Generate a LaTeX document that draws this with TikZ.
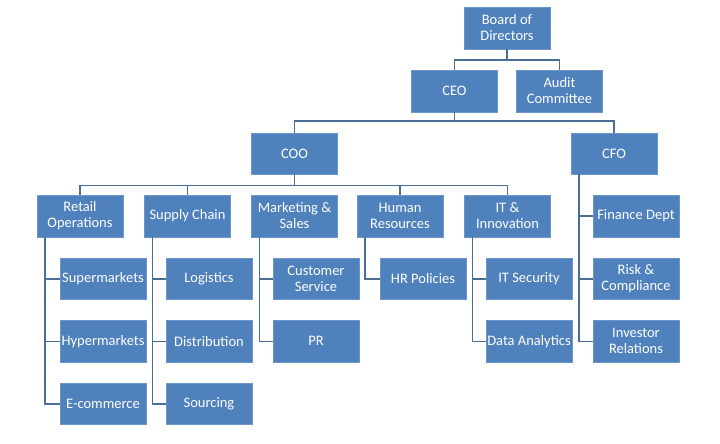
\documentclass[tikz,border=0pt]{standalone}
\usepackage{fontspec}
\setmainfont{Carlito}
\definecolor{boxblue}{HTML}{4F81BD}
\definecolor{boxedge}{HTML}{6B96CA}
\definecolor{linkc}{HTML}{4B6E96}
\begin{document}
\begin{tikzpicture}[x=1pt,y=-1pt,
  box/.style={fill=boxblue,draw=boxedge,line width=0.4pt,minimum width=86pt,minimum height=41.5pt,
    inner sep=0pt,align=center,text=white,font=\fontsize{14.5}{16}\selectfont},
  link/.style={draw=linkc,line width=1.6pt}]
\useasboundingbox[fill=white] (0,0) rectangle (720,444);
% top
\node[box] (board) at (507,28) {Board of\\Directors};
\node[box] (ceo) at (454.5,91) {CEO};
\node[box] (audit) at (559.5,91) {Audit\\Committee};
\node[box] (coo) at (294.5,153.5) {COO};
\node[box] (cfo) at (614,153.5) {CFO};
% row 2
\node[box] (retail) at (80,216) {Retail\\Operations};
\node[box] (supply) at (187.5,216) {Supply Chain};
\node[box] (mkt) at (294.5,216) {Marketing \&\\Sales};
\node[box] (hr) at (400,216) {Human\\Resources};
\node[box] (itinn) at (507.5,216) {IT \&\\Innovation};
\node[box] (fin) at (636,216) {Finance Dept};
% children
\node[box] (super) at (103,278.7) {Supermarkets};
\node[box] (hyper) at (103,341.3) {Hypermarkets};
\node[box] (ecom) at (103,403.8) {E-commerce};
\node[box] (logi) at (209,278.7) {Logistics};
\node[box] (dist) at (209,341.3) {Distribution};
\node[box] (src) at (209,403.8) {Sourcing};
\node[box] (cust) at (316,278.7) {Customer\\Service};
\node[box] (pr) at (316,341.3) {PR};
\node[box] (hrpol) at (423,278.7) {HR Policies};
\node[box] (itsec) at (529,278.7) {IT Security};
\node[box] (data) at (529,341.3) {Data Analytics};
\node[box] (risk) at (636,278.7) {Risk \&\\Compliance};
\node[box] (inv) at (636,341.3) {Investor\\Relations};
% connectors (tree)
\draw[link] (board.south) -- (board.south |- 0,60) -| (ceo.north);
\draw[link] (board.south |- 0,60) -| (audit.north);
\draw[link] (ceo.south) -- (ceo.south |- 0,121) -| (coo.north);
\draw[link] (ceo.south |- 0,121) -| (cfo.north);
\draw[link] (coo.south) -- (coo.south |- 0,185.5) -| (retail.north);
\draw[link] (coo.south |- 0,185.5) -| (supply.north);
\draw[link] (coo.south |- 0,185.5) -| (hr.north);
\draw[link] (coo.south |- 0,185.5) -| (itinn.north);
% side branches
\foreach \p/\c in {retail/super,retail/hyper,retail/ecom,supply/logi,supply/dist,supply/src,mkt/cust,mkt/pr,hr/hrpol,itinn/itsec,itinn/data,cfo/fin,cfo/risk,cfo/inv}
  \draw[link] ([xshift=8pt]\p.south west) |- (\c.west);
\end{tikzpicture}
\end{document}
